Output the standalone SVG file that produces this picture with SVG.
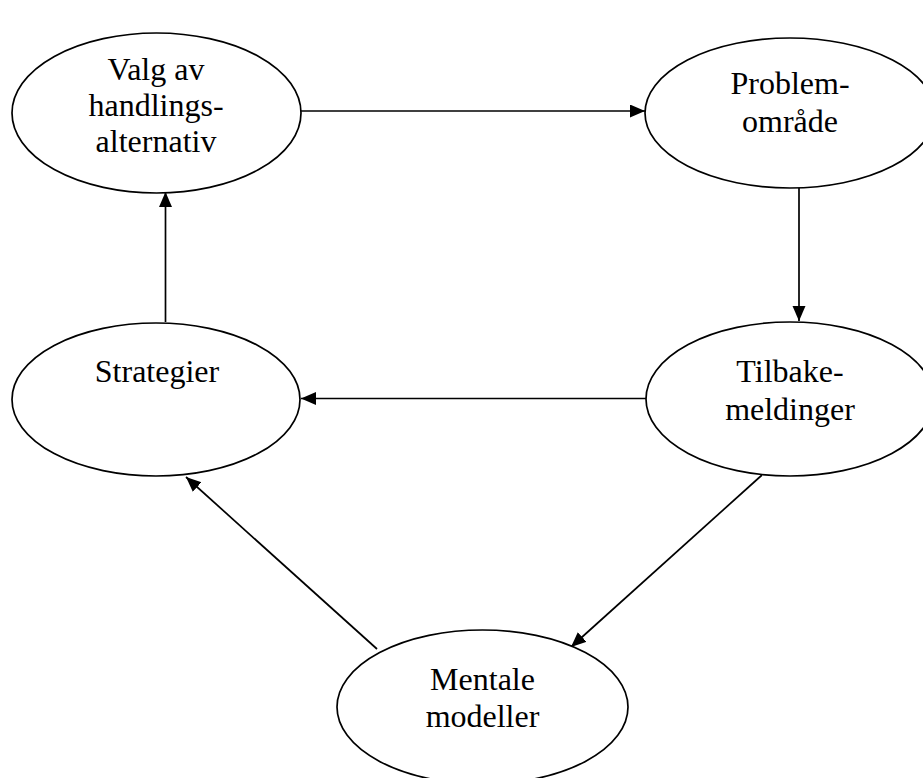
<svg xmlns="http://www.w3.org/2000/svg" width="923" height="778" viewBox="0 0 923 778">
<style>
.node ellipse{fill:#fff;stroke:#000;stroke-width:1.7}
.node text{font-family:"Liberation Serif","Times New Roman",serif;font-size:32px;fill:#000;text-anchor:middle}
.conn line{stroke:#000;stroke-width:1.7;fill:none;marker-end:url(#ah)}
</style>
<defs>
<marker id="ah" markerUnits="userSpaceOnUse" markerWidth="16" markerHeight="14" refX="15" refY="6.5" orient="auto">
<path d="M0,0 L15,6.5 L0,13 z" fill="#000"/>
</marker>
</defs>
<rect width="923" height="778" fill="#fff"/>
<g id="connectors" class="conn">
<line x1="301" y1="111" x2="645" y2="111"/>
<line x1="799" y1="188" x2="799" y2="321"/>
<line x1="646" y1="398.5" x2="301" y2="398.5"/>
<line x1="165.5" y1="322" x2="165.5" y2="192"/>
<line x1="762" y1="475" x2="571" y2="647"/>
<line x1="377" y1="649" x2="186" y2="477"/>
</g>
<g id="valg" class="node">
<ellipse cx="156.5" cy="113" rx="144.5" ry="80"/>
<text x="156" y="80">Valg av</text>
<text x="156" y="116">handlings-</text>
<text x="156" y="152">alternativ</text>
</g>
<g id="problem" class="node">
<ellipse cx="790" cy="113" rx="145" ry="75"/>
<text x="790" y="94">Problem-</text>
<text x="790" y="132">område</text>
</g>
<g id="strategier" class="node">
<ellipse cx="156" cy="399.5" rx="144" ry="76.5"/>
<text x="157" y="382">Strategier</text>
</g>
<g id="tilbake" class="node">
<ellipse cx="790" cy="399" rx="144" ry="77"/>
<text x="790" y="382">Tilbake-</text>
<text x="790" y="420">meldinger</text>
</g>
<g id="mentale" class="node">
<ellipse cx="482.5" cy="707" rx="145.5" ry="77"/>
<text x="482.5" y="690">Mentale</text>
<text x="482.5" y="727">modeller</text>
</g>
</svg>
